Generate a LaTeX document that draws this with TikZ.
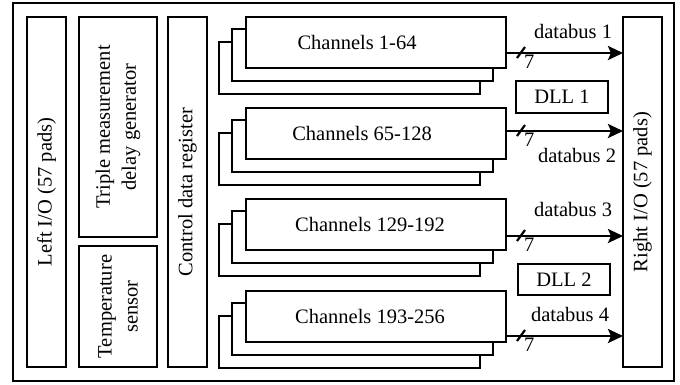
\documentclass[tikz,border=0pt]{standalone}
\usepackage{fontspec}
\setmainfont{Liberation Serif}
\usetikzlibrary{arrows.meta}
\begin{document}
\begin{tikzpicture}[x=1pt,y=-1pt,
  box/.style={draw, line width=2.6pt, fill=white, inner sep=0pt, outer sep=0pt,
    font=\fontsize{20.5}{26}\selectfont, align=center},
  layer/.style={draw, line width=2.6pt, fill=white},
  bus/.style={line width=2.6pt, -{Stealth[length=15pt,width=14pt,inset=3pt]}},
  slash/.style={line width=2.2pt},
  lbl/.style={font=\fontsize{20.5}{26}\selectfont, inner sep=0pt}]
\useasboundingbox (0,0) rectangle (680,384);
\draw[line width=2pt] (13,3) rectangle (674,381);

% left column
\node[box, rotate=90, minimum width=350pt, minimum height=39pt] (lio) at (46.5,192) {Left I/O (57 pads)};
\node[box, rotate=90, minimum width=220pt, minimum height=78pt] (tmdg) at (118,127) {Triple measurement\\delay generator};
\node[box, rotate=90, minimum width=121pt, minimum height=78pt] (temp) at (118,306.5) {Temperature\\sensor};
\node[box, rotate=90, minimum width=350pt, minimum height=39pt] (cdr) at (187.5,192) {Control data register};
\node[box, rotate=90, minimum width=350pt, minimum height=39pt] (rio) at (642.5,192) {Right I/O (57 pads)};

% channel groups
\foreach \i/\t/\txt/\s in {1/17/1-64/38, 2/108/65-128/28, 3/199/129-192/12, 4/291/193-256/12}{
  \draw[layer] (219,\t+25) rectangle (480,\t+77);
  \draw[layer] (232,\t+12) rectangle (493,\t+64);
  \node[box, anchor=north west, minimum width=260pt, minimum height=51pt] (ch\i) at (246,\t) {Channels \txt\hspace*{\s pt}};
}

% DLL boxes
\node[box, anchor=north west, minimum width=92pt, minimum height=32pt] (dll1) at (516,81) {DLL 1};
\node[box, anchor=north west, minimum width=92pt, minimum height=31pt] (dll2) at (518,264) {DLL 2};

% databuses
\foreach \i/\o in {1/36, 2/23, 3/37, 4/45}{
  \coordinate (b\i) at ([yshift=-\o pt]ch\i.north east);
  \draw[bus] (b\i) -- (b\i -| rio.north);
  \draw[slash] ([shift={(11,5)}]b\i) -- ++(8,-11);
  \node[lbl, anchor=north west] (n\i) at ([shift={(18,2)}]b\i) {7};
}
\node[lbl] (d1) at (573,31) {databus 1};
\node[lbl] (d2) at (577,155) {databus 2};
\node[lbl] (d3) at (573,209.5) {databus 3};
\node[lbl] (d4) at (570,314) {databus 4};
\end{tikzpicture}
\end{document}
